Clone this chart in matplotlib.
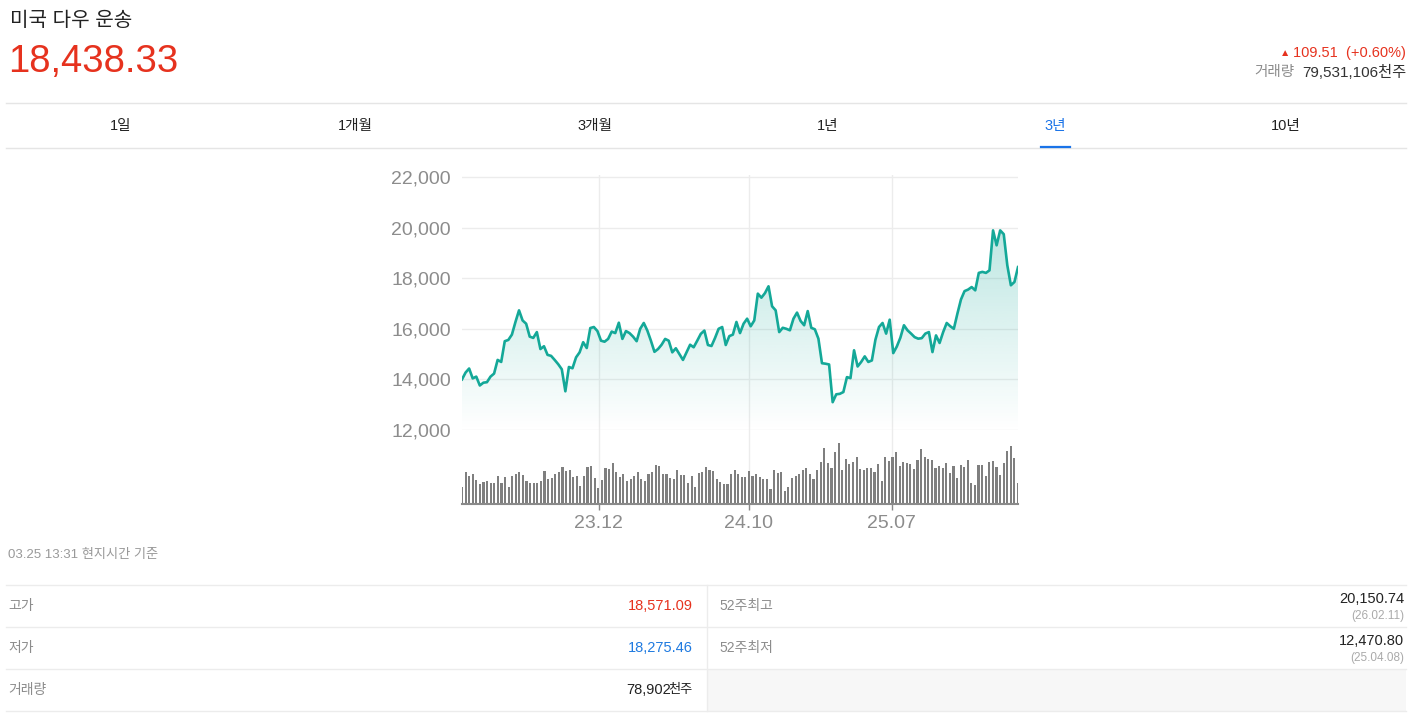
import numpy as np
import matplotlib
matplotlib.use('Agg')
import matplotlib.pyplot as plt
from matplotlib.lines import Line2D
from matplotlib.patches import Polygon, Rectangle

plt.rcParams['font.family'] = ['Liberation Sans', 'Noto Sans CJK KR']

# weekly closes, roughly 3 years
price = [14000, 14270, 14430, 14040, 14110, 13760, 13870, 13890, 14110, 14230,
         14770, 14690, 15510, 15560, 15770, 16270, 16730, 16330, 16200, 15690,
         15640, 15870, 15200, 15310, 14970, 14930, 14770, 14600, 14400, 13530,
         14490, 14440, 14870, 15070, 15470, 15240, 16030, 16070, 15910, 15530,
         15490, 15600, 15890, 15830, 16240, 15600, 15910, 15830, 15690, 15510,
         16000, 16230, 15930, 15530, 15090, 15200, 15370, 15600, 15530, 15070,
         15230, 15000, 14770, 15070, 15370, 15270, 15530, 15800, 15930, 15360,
         15320, 15640, 16000, 16070, 15360, 15710, 15770, 16270, 15830, 16200,
         16400,
         16100, 16330, 17390, 17230, 17410, 17680, 16890, 16730, 15870, 16040,
         16000, 15940, 16400, 16640, 16310, 16140, 16700, 16040, 15980, 15610,
         14640, 14620, 14590, 13100, 13410, 13430, 13500, 14090, 14050, 15150,
         14510, 14690, 14910, 14690, 14750, 15570, 16070, 16230, 15810, 16360,
         15040, 15300, 15650, 16140, 15940, 15810, 15670, 15610, 15630, 15810,
         15870, 15080, 15740, 15440, 15870, 16230, 16100, 16000, 16600, 17160,
         17490, 17550, 17650, 17520, 18210, 18250, 18210, 18310, 19890, 19300,
         19890, 19740, 18510, 17720, 17850, 18438]

# relative weekly volume (bar heights)
volume = [52, 95, 84, 90, 72, 60, 67, 69, 62, 62, 84, 64, 81, 52, 84, 89, 95, 87, 69, 62,
          62, 62, 69, 99, 74, 79, 89, 97, 112, 100, 102, 82, 84, 54, 85, 111, 114, 77, 47, 72,
          107, 105, 122, 97, 82, 89, 69, 75, 84, 95, 74, 69, 90, 95, 117, 114, 89, 89, 77, 74,
          102, 87, 87, 64, 84, 52, 92, 97, 110, 102, 99, 75, 67, 60, 60, 89, 101, 89, 82,
          80, 99, 84, 89, 80, 75, 74, 45, 101, 92, 95, 39, 50, 79, 84, 89, 102, 107, 89, 75,
          102, 127, 167, 122, 107, 157, 182, 102, 134, 119, 127, 140, 105, 102, 107, 107, 95, 120, 69, 140,
          130, 140, 155, 114, 125, 122, 119, 105, 132, 165, 140, 135, 132, 109, 115, 109, 122, 92, 114, 79,
          117, 110, 132, 62, 57, 117, 117, 85, 127, 129, 110, 87, 122, 159, 175, 137, 62]

tick_pos = [38.4, 80.5, 120.6]
tick_labels = ['23.12', '24.10', '25.07']
yticks = [12000, 14000, 16000, 18000, 20000, 22000]

tabs = ['1일', '1개월', '3개월', '1년', '3년', '10년']
tab_x = [121, 355, 595, 828, 1055, 1286]

RED = '#e6321e'
BLUE = '#1f7ae0'
TEAL = '#14a898'

W, H = 1416, 718
fig = plt.figure(figsize=(W / 100, H / 100), dpi=100)


def fx(x):
    return x / W


def fy(y):
    return 1 - y / H


def txt(x, y, s, size, color, ha='left'):
    fig.text(fx(x), fy(y), s, fontsize=size, color=color, ha=ha, va='center')


def hline(y, x0, x1, color='#e6e6e6', lw=1.0):
    fig.add_artist(Line2D([fx(x0), fx(x1)], [fy(y), fy(y)], color=color, lw=lw))


# header
txt(10, 20, '미국 다우 운송', 14.5, '#222222')
txt(8, 62, '18,438.33', 27.5, RED)
txt(1285, 53, '▲', 7.5, RED, ha='center')
txt(1406, 53, '109.51  (+0.60%)', 10.5, RED, ha='right')
txt(1294, 72, '거래량', 10.5, '#8c8c8c', ha='right')
txt(1406, 72, '79,531,106천주', 11, '#333333', ha='right')

hline(103, 6, 1406, '#e5e5e5')
hline(147.5, 6, 1406, '#e5e5e5')
for name, x in zip(tabs, tab_x):
    txt(x, 126, name, 10.5, '#1a73e8' if name == '3년' else '#222222', ha='center')
hline(147, 1041, 1070, '#1a73e8', lw=1.6)

# price chart
n = len(price)
idx = np.arange(n)
ax = fig.add_axes([fx(462), fy(430), (1018 - 462) / W, (430 - 175) / H])
ax.set_xlim(0, n - 1)
ax.set_ylim(12000, 12000 + 255 * 2000 / 50.6)
for s in ax.spines.values():
    s.set_visible(False)
ax.set_yticks(yticks)
ax.set_yticklabels([f'{v:,}' for v in yticks])
ax.tick_params(axis='y', length=0, pad=8, labelsize=14, labelcolor='#8c8c8c')
ax.set_xticks(tick_pos)
ax.tick_params(axis='x', length=0, labelbottom=False)
ax.grid(True, color='#ececec', lw=1)
ax.set_axisbelow(True)

verts = np.vstack([np.column_stack([idx, price]), [[n - 1, 12000], [0, 12000]]])
poly = Polygon(verts, closed=True, facecolor='none', edgecolor='none')
ax.add_patch(poly)
grad = np.zeros((256, 1, 4))
grad[..., :3] = matplotlib.colors.to_rgb(TEAL)
grad[..., 3] = np.linspace(0.30, 0.0, 256)[:, None]
im = ax.imshow(grad, extent=[0, n - 1, 12000, 20500], aspect='auto',
               origin='upper', interpolation='bicubic', zorder=1)
im.set_clip_path(poly)
ax.plot(idx, price, color=TEAL, lw=1.9, solid_joinstyle='round', zorder=3)

# volume chart
vax = fig.add_axes([fx(462), fy(504), (1018 - 462) / W, (504 - 430) / H])
vx = np.linspace(0, n - 1, len(volume))
vax.bar(vx, volume, width=0.6, color='#7f7f7f', zorder=2)
vax.set_xlim(0, n - 1)
vax.set_ylim(0, 222)
for k in ['top', 'left', 'right']:
    vax.spines[k].set_visible(False)
vax.spines['bottom'].set_color('#8a8a8a')
vax.spines['bottom'].set_linewidth(1.5)
vax.set_yticks([])
vax.set_xticks(tick_pos)
vax.set_xticklabels(tick_labels)
vax.tick_params(axis='x', length=4, width=1, color='#8a8a8a', labelsize=14,
                labelcolor='#8c8c8c', pad=4)
vax.xaxis.grid(True, color='#ececec', lw=1)
vax.set_axisbelow(True)

# footer / table
txt(8, 555, '03.25 13:31 현지시간 기준', 9.5, '#999999')
fig.add_artist(Rectangle((fx(707), fy(711)), (1406 - 707) / W, 42 / H,
                         facecolor='#f7f7f7', edgecolor='none'))
for y in [585, 627, 669, 711]:
    hline(y, 6, 1406, '#ececec')
fig.add_artist(Line2D([fx(707), fx(707)], [fy(585), fy(711)], color='#ececec', lw=1))

txt(8, 606, '고가', 10, '#8c8c8c')
txt(693, 606, '18,571.09', 10.5, RED, ha='right')
txt(8, 648, '저가', 10, '#8c8c8c')
txt(693, 648, '18,275.46', 10.5, BLUE, ha='right')
txt(8, 690, '거래량', 10, '#8c8c8c')
txt(671, 690, '78,902', 10.5, '#222222', ha='right')
txt(693, 690, '천주', 9.5, '#222222', ha='right')

txt(719, 606, '52주최고', 10, '#8c8c8c')
txt(1404, 599, '20,150.74', 10.5, '#222222', ha='right')
txt(1404, 616, '(26.02.11)', 8.5, '#aaaaaa', ha='right')
txt(719, 648, '52주최저', 10, '#8c8c8c')
txt(1404, 641, '12,470.80', 10.5, '#222222', ha='right')
txt(1404, 658, '(25.04.08)', 8.5, '#aaaaaa', ha='right')

fig.savefig('out.png', dpi=100)
